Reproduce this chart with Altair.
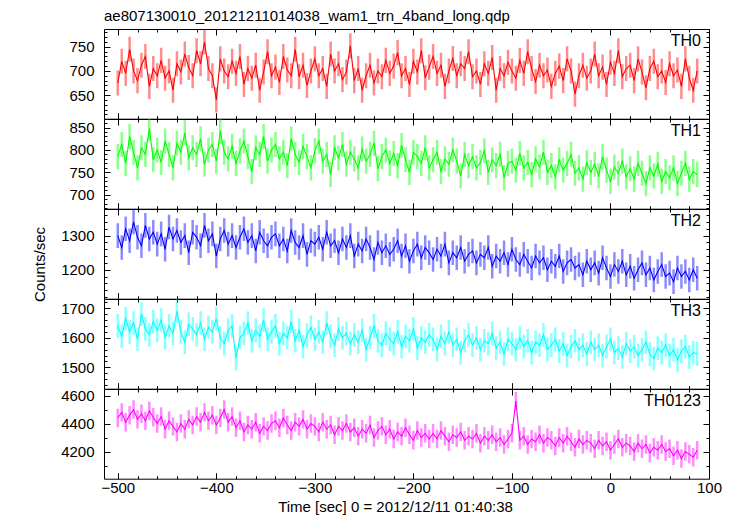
import altair as alt
import pandas as pd

FONT = "Liberation Sans"

times = list(range(-500, 89, 4))

TH0 = [675, 720, 695, 745, 700, 680, 712, 730, 668, 705,
       690, 722, 685, 700, 660, 715, 698, 735, 707, 690,
       742, 715, 760, 705, 690, 640, 725, 700, 688, 720,
       695, 730, 672, 705, 685, 712, 660, 698, 740, 690,
       708, 676, 730, 702, 690, 745, 688, 712, 670, 700,
       725, 690, 705, 668, 735, 700, 715, 682, 698, 752,
       680, 705, 660, 690, 712, 675, 700, 688, 722, 695,
       710, 738, 690, 705, 672, 720, 698, 742, 686, 708,
       730, 695, 712, 668, 700, 726, 690, 715, 705, 740,
       688, 700, 672, 715, 695, 728, 660, 705, 690, 718,
       700, 685, 722, 695, 740, 705, 678, 712, 690, 702,
       668, 695, 710, 680, 725, 700, 652, 690, 712, 685,
       700, 735, 690, 708, 672, 718, 695, 742, 688, 705,
       712, 680, 725, 698, 665, 705, 720, 688, 700, 676,
       715, 690, 702, 668, 725, 685, 660, 700]

TH1 = [785, 812, 770, 830, 795, 760, 805, 790, 848, 778,
       800, 772, 820, 790, 760, 815, 795, 838, 782, 805,
       790, 825, 768, 800, 812, 775, 842, 795, 780, 808,
       770, 798, 820, 785, 752, 805, 790, 830, 775, 800,
       812, 780, 795, 765, 825, 790, 772, 808, 785, 760,
       798, 820, 775, 790, 745, 805, 782, 812, 768, 795,
       780, 760, 802, 775, 790, 815, 758, 785, 800, 770,
       792, 765, 810, 778, 750, 795, 785, 770, 805, 760,
       778, 795, 752, 780, 768, 800, 775, 742, 790, 765,
       785, 760, 772, 798, 750, 778, 765, 790, 738, 770,
       775, 755, 792, 760, 772, 745, 780, 762, 795, 750,
       765, 740, 778, 755, 770, 790, 748, 760, 735, 772,
       750, 768, 742, 785, 755, 730, 762, 748, 775, 740,
       758, 735, 770, 748, 725, 760, 742, 768, 730, 752,
       738, 760, 725, 748, 770, 735, 752, 745]

TH2 = [1300, 1265, 1320, 1285, 1340, 1295, 1270, 1330, 1290, 1310,
       1275, 1305, 1260, 1325, 1290, 1315, 1280, 1300, 1250, 1310,
       1295, 1270, 1330, 1285, 1305, 1240, 1290, 1315, 1275, 1300,
       1265, 1295, 1320, 1280, 1300, 1255, 1310, 1285, 1270, 1295,
       1305, 1270, 1290, 1255, 1315, 1280, 1265, 1300, 1245, 1285,
       1275, 1295, 1260, 1310, 1270, 1285, 1250, 1290, 1265, 1300,
       1240, 1275, 1255, 1290, 1265, 1230, 1280, 1250, 1270, 1245,
       1260, 1285, 1240, 1270, 1225, 1255, 1275, 1235, 1265, 1250,
       1230, 1260, 1240, 1275, 1220, 1250, 1235, 1265, 1225, 1245,
       1255, 1220, 1245, 1235, 1265, 1210, 1240, 1225, 1250, 1215,
       1260, 1230, 1215, 1245, 1225, 1205, 1240, 1220, 1235, 1200,
       1225, 1210, 1240, 1195, 1220, 1230, 1205, 1215, 1185, 1225,
       1200, 1220, 1190, 1235, 1205, 1180, 1215, 1195, 1225, 1185,
       1210, 1175, 1200, 1220, 1185, 1205, 1170, 1195, 1215, 1180,
       1190, 1165, 1205, 1180, 1195, 1170, 1200, 1175]

TH3 = [1640, 1605, 1665, 1620, 1650, 1595, 1680, 1630, 1610, 1655,
       1625, 1660, 1600, 1640, 1615, 1690, 1620, 1585, 1645, 1630,
       1610, 1650, 1595, 1635, 1620, 1665, 1600, 1580, 1625, 1640,
       1530, 1600, 1615, 1650, 1590, 1625, 1605, 1660, 1595, 1620,
       1640, 1580, 1615, 1600, 1655, 1590, 1625, 1570, 1610, 1635,
       1595, 1620, 1585, 1650, 1605, 1575, 1630, 1600, 1615, 1580,
       1610, 1585, 1625, 1560, 1600, 1640, 1590, 1575, 1615, 1595,
       1580, 1620, 1570, 1605, 1590, 1630, 1565, 1600, 1585, 1610,
       1595, 1560, 1605, 1580, 1620, 1575, 1595, 1550, 1590, 1610,
       1575, 1600, 1560, 1590, 1580, 1615, 1565, 1585, 1545, 1595,
       1580, 1560, 1600, 1570, 1590, 1550, 1585, 1575, 1610, 1560,
       1575, 1595, 1555, 1580, 1540, 1570, 1590, 1560, 1575, 1545,
       1585, 1560, 1575, 1540, 1570, 1595, 1550, 1565, 1535, 1580,
       1555, 1570, 1540, 1560, 1585, 1545, 1530, 1565, 1550, 1575,
       1540, 1560, 1525, 1555, 1570, 1535, 1550, 1545]

TH0123 = [4440, 4480, 4410, 4460, 4500, 4430, 4470, 4420, 4490, 4445,
          4400, 4450, 4360, 4420, 4380, 4340, 4400, 4360, 4430, 4390,
          4450, 4410, 4480, 4420, 4460, 4390, 4440, 4500, 4410, 4450,
          4370, 4420, 4340, 4390, 4360, 4410, 4330, 4380, 4350, 4400,
          4420, 4370, 4440, 4390, 4350, 4410, 4380, 4430, 4360, 4400,
          4380, 4340, 4410, 4360, 4390, 4320, 4380, 4350, 4400, 4340,
          4370, 4310, 4360, 4330, 4390, 4300, 4350, 4380, 4320, 4360,
          4290, 4340, 4310, 4370, 4320, 4280, 4350, 4300, 4330, 4290,
          4330, 4290, 4350, 4310, 4270, 4320, 4300, 4340, 4280, 4310,
          4290, 4330, 4260, 4310, 4280, 4320, 4270, 4300, 4250, 4290,
          4330, 4560, 4280, 4310, 4250, 4290, 4270, 4320, 4260, 4300,
          4280, 4240, 4300, 4260, 4310, 4270, 4230, 4290, 4250, 4280,
          4260, 4220, 4280, 4240, 4270, 4210, 4250, 4290, 4230, 4260,
          4240, 4200, 4260, 4220, 4250, 4190, 4230, 4210, 4250, 4200,
          4220, 4170, 4210, 4150, 4200, 4180, 4160, 4210]

bands = ["TH0", "TH1", "TH2", "TH3", "TH0123"]
series = [TH0, TH1, TH2, TH3, TH0123]
colors = ["#ff0000", "#00ff00", "#0000ff", "#00ffff", "#ff00ff"]
errs = [26, 28, 36, 40, 66]
ydomains = [[601, 787], [669, 869], [1115, 1378], [1428, 1731], [4006, 4647]]
ymajor = [[650, 700, 750], [700, 750, 800, 850], [1200, 1300],
          [1500, 1600, 1700], [4200, 4400, 4600]]
yminor = [list(range(610, 790, 10)), list(range(670, 870, 10)),
          list(range(1120, 1378, 20)), list(range(1440, 1731, 20)),
          list(range(4100, 4647, 100))]
xmajor = [-500, -400, -300, -200, -100, 0, 100]
xminor = list(range(-500, 101, 20))

TITLE = "ae807130010_20121211014038_wam1_trn_4band_long.qdp"
XTITLE = "Time [sec] 0 = 2012/12/11 01:40:38"
YTITLE = "Counts/sec"

W = 605
H = 89.7

xscale = alt.Scale(domain=[-514, 100], nice=False, zero=False)


def ax(orient, values, size, labels=False, title=None, **kw):
    return alt.Axis(orient=orient, values=values, tickSize=size, offset=-size,
                    labels=labels, title=title, domain=False, grid=False,
                    ticks=True, tickColor="black", tickWidth=1,
                    labelFlush=False, format="d", **kw)


def panel(i):
    df = pd.DataFrame({"t": times, "rate": series[i]})
    df["err"] = errs[i]
    base = alt.Chart(df).transform_calculate(
        lo="datum.rate - datum.err", hi="datum.rate + datum.err")
    ysc = alt.Scale(domain=ydomains[i], nice=False, zero=False)
    last = i == len(bands) - 1
    mid = i == 2

    xb_kw = {}
    if last:
        xb_kw = dict(labelPadding=2, titlePadding=4, titleX=291)
    xb = ax("bottom", xmajor, 6, labels=last, title=XTITLE if last else None, **xb_kw)
    yl_kw = dict(labelPadding=10)
    if mid:
        yl_kw.update(titleX=-63, titleY=55)
    yl = ax("left", ymajor[i], 6, labels=True, title=YTITLE if mid else None, **yl_kw)

    bars = base.mark_rule(color=colors[i], opacity=0.45, strokeWidth=2.5, clip=True).encode(
        x=alt.X("t:Q", scale=xscale, axis=xb),
        y=alt.Y("lo:Q", scale=ysc, axis=yl),
        y2="hi:Q",
    )
    line = base.mark_line(color=colors[i], strokeWidth=1.1, clip=True).encode(
        x=alt.X("t:Q", scale=xscale, axis=ax("top", xmajor, 6)),
        y=alt.Y("rate:Q", scale=ysc, axis=ax("right", ymajor[i], 6)),
    )
    minor1 = base.mark_point(opacity=0, clip=True).encode(
        x=alt.X("t:Q", scale=xscale, axis=ax("bottom", xminor, 3)),
        y=alt.Y("rate:Q", scale=ysc, axis=ax("left", yminor[i], 3)),
    )
    minor2 = base.mark_point(opacity=0, clip=True).encode(
        x=alt.X("t:Q", scale=xscale, axis=ax("top", xminor, 3)),
        y=alt.Y("rate:Q", scale=ysc, axis=ax("right", yminor[i], 3)),
    )
    label = alt.Chart(pd.DataFrame({"band": [bands[i]]})).mark_text(
        align="right", baseline="alphabetic", fontSize=16, font=FONT, color="black"
    ).encode(x=alt.value(W - 8), y=alt.value(17), text="band:N")

    layer = alt.layer(bars, line, minor1, minor2, label).resolve_axis(
        x="independent", y="independent").properties(width=W, height=H)
    if i == 0:
        layer = layer.properties(title=alt.TitleParams(
            text=TITLE, anchor="start", frame="group", fontSize=15,
            fontWeight="normal", font=FONT, color="black", offset=5))
    return layer


chart = alt.vconcat(*[panel(i) for i in range(len(bands))], spacing=0,
                    bounds="flush").properties(
    padding={"left": 23, "top": 0, "right": 2, "bottom": 2}
).configure_view(stroke="black", strokeWidth=1).configure_axis(
    labelFont=FONT, labelFontSize=15, labelColor="black",
    titleFont=FONT, titleFontSize=15, titleFontWeight="normal", titleColor="black",
)

chart.save("out.html", embed_options={"renderer": "svg", "actions": False})
